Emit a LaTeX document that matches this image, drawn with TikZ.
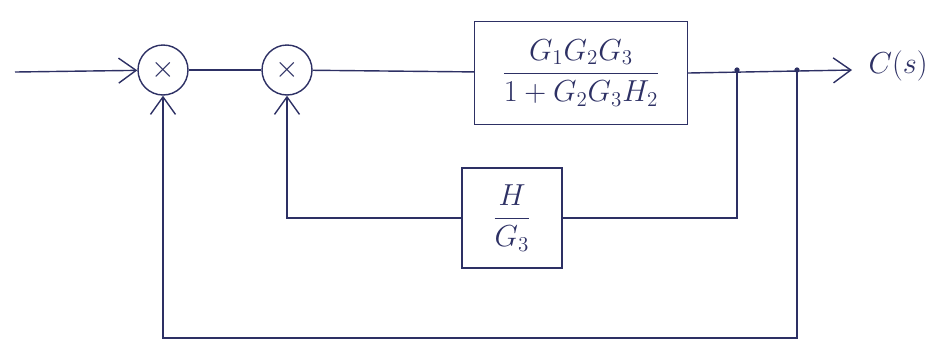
\documentclass[tikz,border=0pt]{standalone}
\usepackage{amsmath}
\usepackage{amssymb}
\usepackage{tikz}
\usetikzlibrary{arrows.meta,calc}

\definecolor{ink}{RGB}{45,48,100}

\tikzset{
  sum/.style={draw,circle,minimum size=1cm,inner sep=0pt,font=\LARGE},
  blockbox/.style={draw,rectangle,inner sep=2pt,font=\LARGE},
  tap/.style={circle,fill,inner sep=0pt,minimum size=3pt}
}

\begin{document}
\begin{tikzpicture}[x=0.02cm,y=-0.02cm,ink,thick,
    >={Straight Barb[length=3.5mm,width=5mm]}]
  \useasboundingbox (0,0) rectangle (945,360);

  % summing junctions
  \node[sum] (s1) at (163,70) {$\times$};
  \node[sum] (s2) at (287,70) {$\times$};

  % forward and feedback blocks
  \node[blockbox,minimum width=4.26cm,minimum height=2.06cm] (g) at (581,73)
    {$\dfrac{G_1G_2G_3}{1+G_2G_3H_2}$};
  \node[blockbox,minimum width=2cm,minimum height=2cm] (h) at (512,218)
    {$\dfrac{H}{G_3}$};

  % free ends and branch points
  \coordinate (in) at (15,72);
  \coordinate (out) at (852,70);
  \coordinate (b1) at (737,70);
  \coordinate (b2) at (797,70);
  \coordinate (fb) at (797,338);
  \node[font=\LARGE,anchor=west] (cs) at (862,66) {$C(s)$};

  % forward path
  \draw[->] (in) -- (s1);
  \draw (s1) -- (s2);
  \draw (s2) -- (g);
  \draw[->] (g.east) -- (out);
  \node[tap] at (b1) {};
  \node[tap] at (b2) {};

  % inner loop
  \draw (b1) |- (h.east);
  \draw[->] (h.west) -| (s2.south);

  % outer loop
  \draw[->] (b2) -- (fb) -| (s1.south);
\end{tikzpicture}
\end{document}
